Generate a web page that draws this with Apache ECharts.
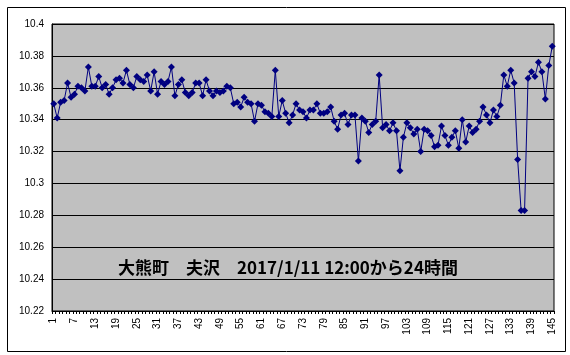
<!DOCTYPE html>
<html>
<head>
<meta charset="utf-8">
<script src="https://cdn.jsdelivr.net/npm/echarts@6/dist/echarts.min.js"></script>
<style>
html,body{margin:0;padding:0;background:#fff;}
#chart{width:570px;height:355px;}
</style>
</head>
<body>
<div id="chart"></div>
<script>
const titleText = '大熊町　夫沢　2017/1/11 12:00から24時間';
const categories = [];
for (let i = 1; i <= 145; i++) categories.push(String(i));
const values = [
10.350,10.341,10.351,10.352,10.363,10.354,10.356,10.361,10.360,10.358,
10.373,10.361,10.361,10.367,10.360,10.362,10.356,10.360,10.365,10.366,
10.363,10.371,10.362,10.360,10.367,10.365,10.364,10.368,10.358,10.370,
10.356,10.364,10.362,10.364,10.373,10.355,10.362,10.365,10.357,10.355,
10.357,10.363,10.363,10.355,10.365,10.358,10.355,10.358,10.357,10.358,
10.361,10.360,10.350,10.351,10.348,10.354,10.351,10.350,10.339,10.350,
10.349,10.345,10.344,10.342,10.371,10.342,10.352,10.344,10.338,10.343,
10.350,10.346,10.345,10.341,10.346,10.346,10.350,10.344,10.344,10.345,
10.348,10.339,10.334,10.343,10.344,10.337,10.343,10.343,10.314,10.341,
10.339,10.332,10.337,10.339,10.368,10.335,10.337,10.333,10.338,10.333,
10.308,10.329,10.338,10.335,10.331,10.334,10.320,10.334,10.333,10.330,
10.323,10.324,10.336,10.330,10.324,10.329,10.333,10.322,10.340,10.326,
10.336,10.332,10.334,10.339,10.348,10.343,10.338,10.346,10.342,10.349,
10.368,10.361,10.371,10.363,10.315,10.283,10.283,10.366,10.370,10.367,
10.376,10.370,10.353,10.374,10.386
];
const yMin = 10.22, yMax = 10.4, yStep = 0.02;

const chart = echarts.init(document.getElementById('chart'), null, {renderer:'canvas'});
chart.setOption({
  animation: false,
  backgroundColor: '#ffffff',
  graphic: [{
    type: 'rect', left: 5, top: 5, silent: true,
    shape: {x:0, y:0, width: 558, height: 344},
    style: {fill: 'none', stroke: '#000', lineWidth: 1}
  }],
  title: {
    text: titleText,
    left: 113, top: 254,
    textStyle: {fontFamily: '"Noto Sans CJK JP"', fontSize: 17, fontWeight: 'bold', color: '#000'}
  },
  grid: {
    left: 52, top: 24, right: 16, bottom: 44,
    show: true, backgroundColor: '#c0c0c0', borderColor: '#000', borderWidth: 1
  },
  xAxis: {
    type: 'category',
    data: categories,
    boundaryGap: true,
    axisLine: {lineStyle: {color: '#000', width: 1}},
    axisTick: {show: true, interval: 0, length: 3, lineStyle: {color: '#000'}},
    axisLabel: {
      interval: 5, rotate: 90, margin: 7,
      fontFamily: '"Liberation Sans", Arial', fontSize: 10, color: '#000'
    },
    splitLine: {show: false}
  },
  yAxis: {
    type: 'value',
    min: yMin, max: yMax, interval: yStep,
    axisLine: {show: true, lineStyle: {color: '#000', width: 1}},
    axisTick: {show: false},
    axisLabel: {
      margin: 8, fontFamily: '"Liberation Sans", Arial', fontSize: 10, color: '#000',
      formatter: v => String(parseFloat(v.toFixed(2)))
    },
    splitLine: {show: true, lineStyle: {color: '#000', width: 1}}
  },
  series: [{
    type: 'line',
    data: values,
    symbol: 'diamond',
    symbolSize: 7,
    showAllSymbol: true,
    lineStyle: {color: '#000080', width: 1},
    itemStyle: {color: '#000080', borderWidth: 0}
  }]
});
</script>
</body>
</html>
